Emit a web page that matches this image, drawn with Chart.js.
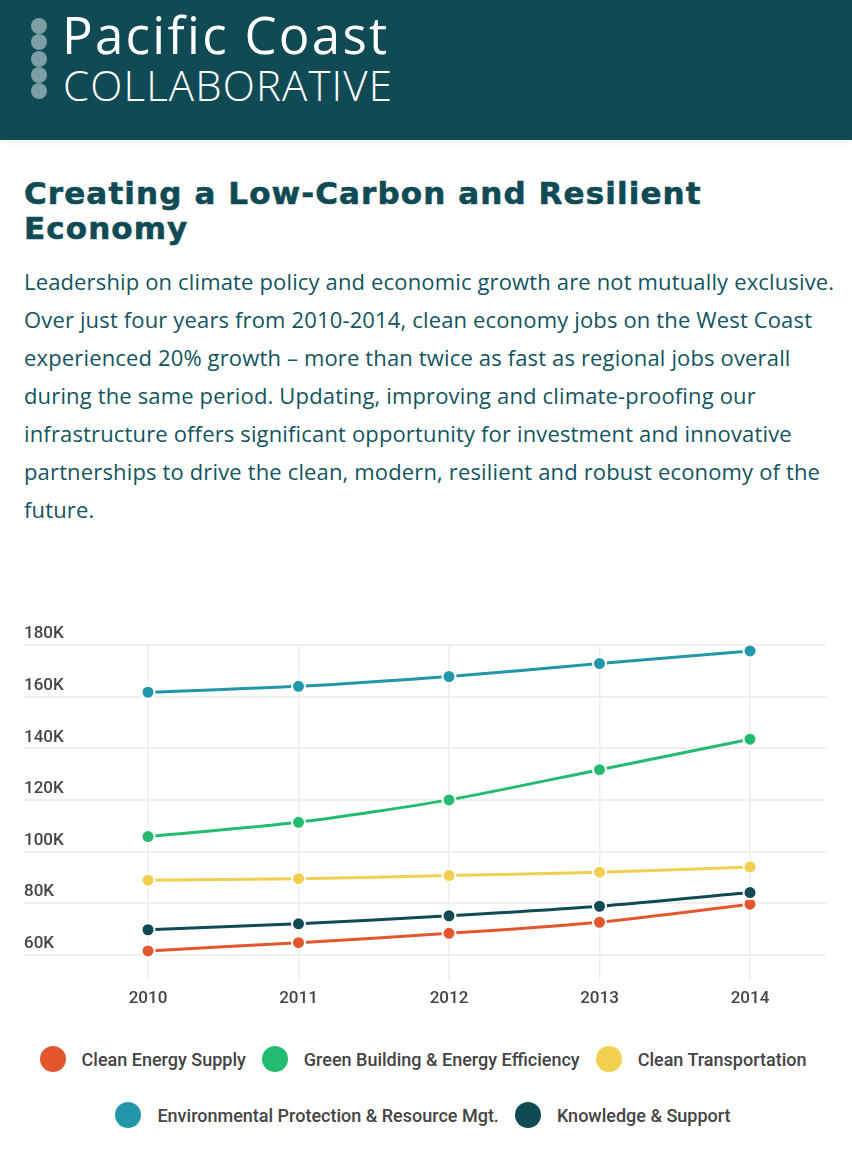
<!DOCTYPE html>
<html>
<head>
<meta charset="utf-8">
<script src="https://cdn.jsdelivr.net/npm/chart.js@4.4.1/dist/chart.umd.min.js"></script>
<style>
  html, body { margin: 0; padding: 0; background: #fff; }
  body { width: 852px; height: 1160px; position: relative; overflow: hidden; }
  #header { position: absolute; left: 0; top: 0; width: 852px; height: 140px; background: #104b55; box-shadow: 0 3px 6px rgba(0,0,0,0.06); }
  .dot { position: absolute; left: 31px; width: 16px; height: 16px; border-radius: 50%; background: #7b9fa4; }
  #brand1 { position: absolute; left: 62px; top: -1px; font-family: "Open Sans", sans-serif; font-size: 51px; color: #fff; font-weight: 400; white-space: nowrap; letter-spacing: 2.3px; }
  #brand2 { position: absolute; left: 63px; top: 56px; font-family: "Open Sans", sans-serif; font-size: 42px; color: #fff; font-weight: 300; white-space: nowrap; letter-spacing: 1.15px; }
  h1 { position: absolute; left: 24px; top: 176px; margin: 0; font-family: "DejaVu Sans", sans-serif; font-weight: 700; font-size: 31px; line-height: 35px; letter-spacing: 1.1px; color: #104b55; white-space: nowrap; -webkit-text-stroke: 0.6px #104b55; }
  #para { position: absolute; left: 24px; top: 262px; margin: 0; font-family: "Open Sans", sans-serif; font-size: 22px; line-height: 38px; letter-spacing: 0.15px; color: #125560; white-space: nowrap; }
  #chartWrap { position: absolute; left: 0; top: 600px; width: 852px; height: 430px; }
  #legend { position: absolute; left: 0; top: 1031px; width: 852px; font-family: Roboto, sans-serif; font-size: 18px; font-weight: 500; color: #444; }
  .lrow { display: flex; justify-content: center; align-items: center; height: 56px; padding-right: 6px; }
  .litem { display: flex; align-items: center; margin: 0 8px; }
  .lbox { width: 26px; height: 26px; border-radius: 50%; margin-right: 16px; }
</style>
</head>
<body>
<div id="header">
  <div class="dot" style="top:18px"></div>
  <div class="dot" style="top:34px"></div>
  <div class="dot" style="top:51px"></div>
  <div class="dot" style="top:67px"></div>
  <div class="dot" style="top:83px"></div>
  <div id="brand1">Pacific Coast</div>
  <div id="brand2">COLLABORATIVE</div>
</div>
<h1>Creating a Low-Carbon and Resilient<br>Economy</h1>
<p id="para">Leadership on climate policy and economic growth are not mutually exclusive.<br>Over just four years from 2010-2014, clean economy jobs on the West Coast<br>experienced 20% growth – more than twice as fast as regional jobs overall<br>during the same period. Updating, improving and climate-proofing our<br>infrastructure offers significant opportunity for investment and innovative<br>partnerships to drive the clean, modern, resilient and robust economy of the<br>future.</p>
<div id="chartWrap"><canvas id="c"></canvas></div>
<div id="legend"></div>
<script>
const years = [2010, 2011, 2012, 2013, 2014];
const yTickValues = [60000, 80000, 100000, 120000, 140000, 160000, 180000];
const seriesNames = ["Clean Energy Supply", "Green Building & Energy Efficiency", "Clean Transportation", "Environmental Protection & Resource Mgt.", "Knowledge & Support"];
const seriesColors = ["#e4572e", "#23bb70", "#f1cf4f", "#2297a9", "#0f4a55"];
const cleanEnergySupply = [61500, 64700, 68300, 72600, 79600];
const greenBuilding = [105800, 111300, 120000, 131700, 143500];
const cleanTransportation = [88900, 89500, 90700, 92000, 94000];
const environmentalProtection = [161700, 164000, 167800, 172800, 177700];
const knowledgeSupport = [69700, 72000, 75100, 78800, 84100];
const seriesValues = [cleanEnergySupply, greenBuilding, cleanTransportation, environmentalProtection, knowledgeSupport];
const drawOrder = [1, 2, 3, 4, 0];
const legendRows = [[0, 1, 2], [3, 4]];

const datasets = seriesNames.map((name, i) => ({
  label: name,
  data: years.map((yr, j) => ({ x: yr, y: seriesValues[i][j] })),
  borderColor: seriesColors[i],
  backgroundColor: seriesColors[i],
  pointBackgroundColor: seriesColors[i],
  pointBorderColor: "#ffffff",
  pointBorderWidth: 2,
  pointRadius: 6.5,
  pointHoverRadius: 6.5,
  borderWidth: 3,
  tension: 0.25,
  order: drawOrder[i]
}));

const htmlLegend = {
  id: "htmlLegend",
  afterUpdate(chart) {
    const box = document.getElementById("legend");
    box.innerHTML = "";
    legendRows.forEach(row => {
      const r = document.createElement("div");
      r.className = "lrow";
      row.forEach(idx => {
        const ds = chart.data.datasets[idx];
        const it = document.createElement("div");
        it.className = "litem";
        const b = document.createElement("span");
        b.className = "lbox";
        b.style.background = ds.borderColor;
        const t = document.createElement("span");
        t.textContent = ds.label;
        it.appendChild(b); it.appendChild(t);
        r.appendChild(it);
      });
      box.appendChild(r);
    });
  }
};

new Chart(document.getElementById("c"), {
  type: "line",
  data: { datasets },
  plugins: [htmlLegend],
  options: {
    responsive: true,
    maintainAspectRatio: false,
    animation: false,
    layout: { padding: { left: 24, right: 26, top: 45, bottom: 13 } },
    plugins: { legend: { display: false }, tooltip: { enabled: false } },
    scales: {
      x: {
        type: "linear",
        min: 2009.176,
        max: 2014.505,
        afterBuildTicks: axis => { axis.ticks = years.map(v => ({ value: v })); },
        grid: { color: "#eeeeee", lineWidth: 1.5, drawTicks: false },
        border: { display: false },
        ticks: {
          padding: 8,
          color: "#444",
          font: { family: "Roboto", size: 17, weight: "500" },
          callback: v => String(v)
        }
      },
      y: {
        min: 50000,
        max: 180000,
        afterBuildTicks: axis => { axis.ticks = yTickValues.map(v => ({ value: v })); },
        grid: { color: "#efefef", lineWidth: 2, drawTicks: false },
        border: { display: false },
        ticks: {
          mirror: true,
          padding: 0,
          labelOffset: -11,
          color: "#444",
          font: { family: "Roboto", size: 17, weight: "500" },
          callback: v => (v / 1000) + "K"
        }
      }
    }
  }
});
</script>
</body>
</html>
